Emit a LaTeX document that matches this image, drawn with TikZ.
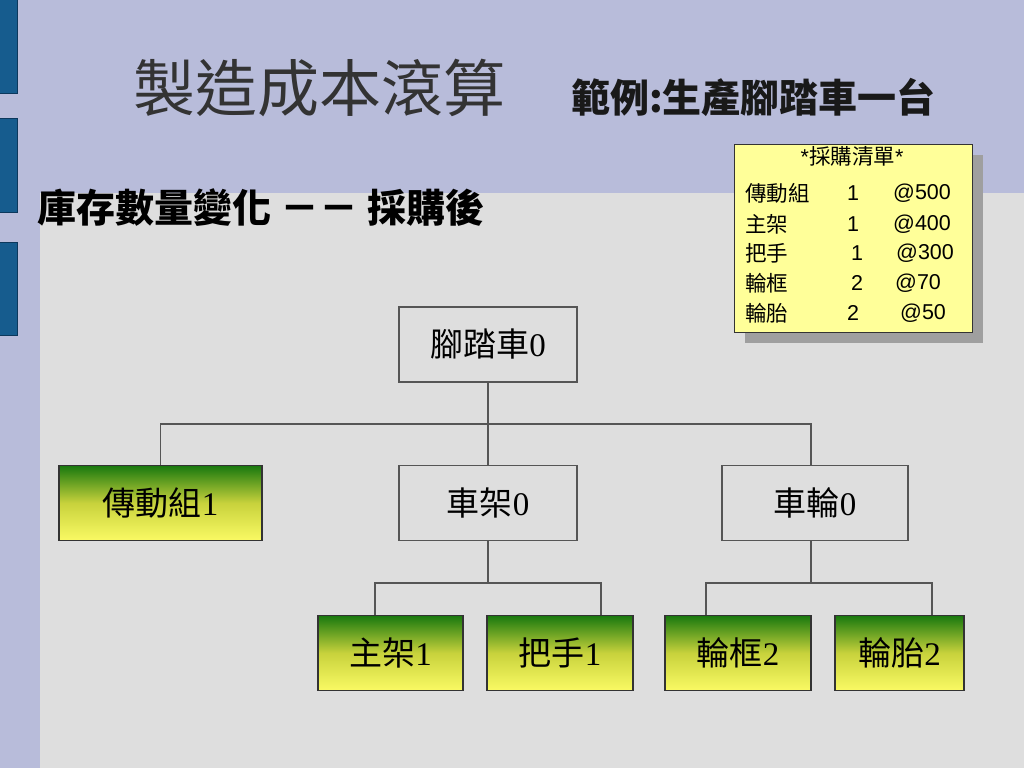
\documentclass[tikz,border=0pt]{standalone}
\usepackage{fontspec}
\setmainfont{Liberation Serif}
\newfontfamily\cjk{Noto Sans CJK TC}
\newfontfamily\arial{Liberation Sans}
\usepackage{tikz}
\usetikzlibrary{calc}

\definecolor{lavender}{RGB}{184,188,218}
\definecolor{panel}{RGB}{222,222,222}
\definecolor{barblue}{RGB}{22,92,142}
\definecolor{bardark}{RGB}{12,56,92}
\definecolor{memo}{RGB}{255,255,153}
\definecolor{gtop}{RGB}{24,120,14}
\definecolor{gmid}{RGB}{200,210,60}
\definecolor{gbot}{RGB}{250,250,100}
\definecolor{wire}{RGB}{85,85,85}

\tikzset{
  partbox/.style={draw=wire, line width=1.4pt, fill=panel, minimum height=75pt,
    inner sep=0pt, font=\fontsize{33}{35}\selectfont},
  stockbox/.style={partbox, draw=black!80, top color=gtop, bottom color=gbot,
    middle color=gmid},
  memotext/.style={inner sep=0pt, font=\arial\fontsize{21.5}{24}\selectfont}
}

\begin{document}
\begin{tikzpicture}[x=1pt, y=-1pt]
%%%%% Background %%%%%
\useasboundingbox (0,0) rectangle (1024,768);
\fill[lavender] (0,0) rectangle (1024,768);
\fill[panel] (40,193) rectangle (1024,768);
\foreach \t/\b in {0/93, 118/212, 242/335}{
\draw[fill=barblue, draw=bardark, line width=1pt] (-1,\t) rectangle (17,\b);
}
%%%%% Titles %%%%%
\node[anchor=west, inner sep=0pt, text=black!80, font=\cjk\fontsize{62}{62}\selectfont] (title) at (133,88) {製造成本滾算};
\node[anchor=west, inner sep=0pt, text=black!90, font=\cjk\bfseries\fontsize{39}{39}\selectfont] (example) at (571,97) {範例:生產腳踏車一台};
\node[anchor=west, inner sep=0pt, font=\cjk\bfseries\fontsize{39}{39}\selectfont] (stage) at (37,208) {庫存數量變化 －－ 採購後};
%%%%% Purchase list %%%%%
\fill[gray!75] (745,155) rectangle (983,343);
\draw[fill=memo, draw=black!80, line width=1pt] (734,144) rectangle (972,332);
\node[memotext] (memo) at (852,156) {*{\cjk 採購清單}*};
\foreach \n/\q/\p/\y/\qx/\px in {傳動組/1/@500/193/853/893, 主架/1/@400/224/853/893,
  把手/1/@300/253/857/896, 輪框/2/@70/283/857/895, 輪胎/2/@50/313/853/900}{
\node[memotext, anchor=west] at (745,\y) {\cjk \n};
\node[memotext] at (\qx,\y) {\q};
\node[memotext, anchor=west] at (\px,\y) {\p};
}
%%%%% Tree %%%%%
\node[partbox, minimum width=178pt] (bike) at (488,344.5) {{\cjk 腳踏車}0};
\node[stockbox, minimum width=203pt] (drive) at (160.5,503) {{\cjk 傳動組}1};
\node[partbox, minimum width=178pt] (frame) at (488,503) {{\cjk 車架}0};
\node[partbox, minimum width=186pt] (wheel) at (815,503) {{\cjk 車輪}0};
\node[stockbox, minimum width=145pt] (main) at (390.5,653) {{\cjk 主架}1};
\node[stockbox, minimum width=146pt] (handle) at (560,653) {{\cjk 把手}1};
\node[stockbox, minimum width=146pt] (rim) at (738,653) {{\cjk 輪框}2};
\node[stockbox, minimum width=129pt] (tire) at (899.5,653) {{\cjk 輪胎}2};

\coordinate (j1) at (488,424);
\coordinate (j2) at (488,583);
\coordinate (j3) at (811,583);
\draw[wire, line width=1.4pt] (bike.south) -- (j1) -| (drive.north);
\draw[wire, line width=1.4pt] (j1) -- (frame.north);
\draw[wire, line width=1.4pt] (j1) -| ([xshift=-4pt]wheel.north);
\draw[wire, line width=1.4pt] (frame.south) -- (j2) -| ([xshift=-15.5pt]main.north);
\draw[wire, line width=1.4pt] (j2) -| ([xshift=41pt]handle.north);
\draw[wire, line width=1.4pt] ([xshift=-4pt]wheel.south) -- (j3) -| ([xshift=-32pt]rim.north);
\draw[wire, line width=1.4pt] (j3) -| ([xshift=32.5pt]tire.north);
\end{tikzpicture}
\end{document}
